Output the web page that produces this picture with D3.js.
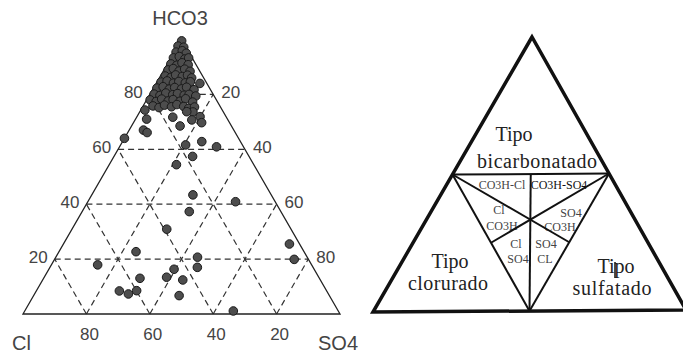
<!DOCTYPE html>
<html><head><meta charset="utf-8">
<script src="https://cdn.jsdelivr.net/npm/d3@7"></script>
<style>html,body{margin:0;padding:0;background:#fff;} svg{display:block;}</style>
</head><body>
<svg id="c" width="683" height="354"></svg>
<script>
// ---- Data: samples (percent of anions, meq) ----
const hco3 = [99.5,97.6,97.2,95.4,95.9,95.0,93.3,93.8,92.9,93.3,
  91.1,90.6,91.5,90.8,88.9,89.4,88.5,89.2,88.4,86.7,
  86.2,87.1,86.5,87.0,86.0,84.5,84.9,84.1,84.7,84.2,
  84.6,82.3,82.8,81.9,82.5,82.0,82.6,81.7,80.1,79.6,
  80.5,79.9,80.3,79.7,80.0,79.4,78.0,77.4,78.3,77.6,
  78.1,77.5,78.4,77.2,75.8,75.2,76.1,75.5,76.3,75.6,
  74.9,75.4,73.6,
  84.0,74.3,71.0,67.0,66.1,64.0,71.7,68.5,70.7,71.9,
  69.7,73.7,62.8,60.9,61.6,57.4,54.4,
  43.4,40.9,37.3,30.9,22.7,17.9,20.7,17.0,16.3,13.4,
  12.4,13.0,8.4,7.3,8.5,6.7,1.1,25.5,19.9];
const so4 = [0.3,0.1,2.1,0.6,2.3,4.0,0.8,2.4,4.6,5.6,
  1.1,3.2,4.4,6.7,1.3,2.7,5.0,6.4,8.5,1.5,
  3.6,4.6,7.0,8.4,10.2,1.3,3.0,5.4,6.8,9.1,
  10.5,1.1,2.8,5.2,6.6,9.0,10.3,13.1,1.3,3.4,
  4.8,7.3,8.6,11.0,12.4,14.8,1.1,3.3,4.6,7.0,
  8.3,10.8,12.1,14.9,3.1,5.3,6.6,9.1,10.4,12.9,
  14.8,16.4,16.8,
  13.8,1.3,3.5,4.5,6.1,0.0,11.4,15.3,17.9,19.9,
  21.5,14.8,25.0,30.6,20.5,24.8,21.2,
  31.9,46.6,33.8,29.9,24.3,14.6,44.7,46.5,39.5,38.6,
  44.2,30.4,26.2,29.6,31.6,45.9,65.8,71.3,75.6];
const cl = [0.2,2.3,0.7,4.0,1.8,1.0,5.9,3.8,2.5,1.1,
  7.8,6.2,4.1,2.5,9.8,7.9,6.5,4.4,3.1,11.8,
  10.2,8.3,6.5,4.6,3.8,14.2,12.1,10.5,8.5,6.7,
  4.9,16.6,14.4,12.9,10.9,9.0,7.1,5.2,18.6,17.0,
  14.7,12.8,11.1,9.3,7.6,5.8,20.9,19.3,17.1,15.4,
  13.6,11.7,9.5,7.9,21.1,19.5,17.3,15.4,13.3,11.5,
  10.3,8.2,9.6,
  2.2,24.4,25.5,28.5,27.8,36.0,16.9,16.2,11.4,8.2,
  8.8,11.5,12.2,8.5,17.9,17.8,24.4,
  24.7,12.5,28.9,39.2,53.0,67.5,34.6,36.5,44.2,48.0,
  43.4,56.6,65.4,63.1,59.9,47.4,33.1,3.2,4.5];

const gridValues = [20, 40, 60, 80];
const hco3TickLabels = ["20","40","60","80"];   // left side, at HCO3 = 20..80
const so4TickLabels  = ["80","60","40","20"];   // right side, at HCO3 = 20..80
const clTickLabels   = ["80","60","40","20"];   // bottom, at SO4 = 20..80
const cornerLabels = ["HCO3", "Cl", "SO4"];

// classification diagram (HCO3, Cl, SO4 in %)
const classLines = [
  [[50,50,0],[50,0,50]],
  [[50,50,0],[0,50,50]],
  [[50,0,50],[0,50,50]],
  [[50,50,0],[25,25,50]],
  [[50,0,50],[25,50,25]],
  [[50,25,25],[0,50,50]]
];
const bigLabels = [
  {t:"Tipo", x:514, y:141},
  {t:"bicarbonatado", x:537, y:168, len:120},
  {t:"Tipo", x:450, y:268},
  {t:"clorurado", x:448, y:290, len:80},
  {t:"Tipo", x:616, y:273},
  {t:"sulfatado", x:612, y:295, len:79}
];
const smallLabels = [
  {t:"CO3H-Cl", x:502, y:189},
  {t:"CO3H-SO4", x:559, y:189, dark:true},
  {t:"Cl", x:499, y:214},
  {t:"CO3H", x:502, y:230},
  {t:"SO4", x:571, y:217},
  {t:"CO3H", x:560, y:231},
  {t:"Cl", x:516, y:248},
  {t:"SO4", x:518, y:263},
  {t:"SO4", x:546, y:248},
  {t:"CL", x:545, y:263}
];

const svg = d3.select("#c");

// ---------- Left: ternary plot ----------
const xS = d3.scaleLinear().domain([0,100]).range([23, 340]);
const yS = d3.scaleLinear().domain([0,100]).range([314, 39.5]);
const tp = (h, s) => [xS(s + h/2), yS(h)];
const line = d3.line();

const g = svg.append("g");
const grid = g.append("g").attr("stroke","#333").attr("stroke-width",1.2)
  .attr("stroke-dasharray","6,4").attr("fill","none");
gridValues.forEach(v => {
  grid.append("path").attr("d", line([tp(v,0), tp(v,100-v)]));      // HCO3 = v
  grid.append("path").attr("d", line([tp(0,100-v), tp(100-v,0)]));  // Cl = v
  grid.append("path").attr("d", line([tp(0,v), tp(100-v,v)]));      // SO4 = v
});
g.append("path").attr("d", line([tp(0,0), tp(0,100), tp(100,0)]) + "Z")
  .attr("fill","none").attr("stroke","#222").attr("stroke-width",1.3);

const lab = g.append("g").attr("font-family","'Liberation Sans', Arial, sans-serif")
  .attr("font-size",17).attr("fill","#444");
gridValues.forEach((v,i) => {
  const pl = tp(v,0);
  lab.append("text").attr("x", pl[0]-7).attr("y", pl[1]-2).attr("dy","0.35em")
    .attr("text-anchor","end").text(hco3TickLabels[i]);
  const pr = tp(v,100-v);
  lab.append("text").attr("x", pr[0]+8).attr("y", pr[1]-2).attr("dy","0.35em")
    .attr("text-anchor","start").text(so4TickLabels[i]);
  const pb = tp(0, v);
  lab.append("text").attr("x", pb[0]+3).attr("y", 340)
    .attr("text-anchor","middle").text(clTickLabels[i]);
});
const corner = g.append("g").attr("font-family","'Liberation Sans', Arial, sans-serif")
  .attr("font-size",20).attr("fill","#444");
corner.append("text").attr("x",180).attr("y",25).attr("text-anchor","middle").text(cornerLabels[0]);
corner.append("text").attr("x",12).attr("y",350).text(cornerLabels[1]);
corner.append("text").attr("x",318).attr("y",350).text(cornerLabels[2]);

const pts = hco3.map((h,i) => ({h, s: so4[i], c: cl[i]}));
g.append("g").selectAll("circle").data(pts).join("circle")
  .attr("cx", d => tp(d.h, d.s)[0]).attr("cy", d => tp(d.h, d.s)[1])
  .attr("r", 4.3).attr("fill","#4d4d4d").attr("stroke","#1a1a1a").attr("stroke-width",1);

// ---------- Right: classification triangle ----------
const RA=[532,37], RB=[373,312], RC=[686,310];
const rp = (v) => { const [h,c,s] = v.map(x=>x/100);
  return [h*RA[0]+c*RB[0]+s*RC[0], h*RA[1]+c*RB[1]+s*RC[1]]; };
const r = svg.append("g");

r.append("g").attr("font-family","'Liberation Serif','Times New Roman',serif")
  .attr("font-size",20).attr("fill","#222").attr("text-anchor","middle")
  .selectAll("text").data(bigLabels).join("text")
  .attr("x",d=>d.x).attr("y",d=>d.y).text(d=>d.t)
  .each(function(d){ if(d.len) d3.select(this).attr("textLength",d.len).attr("lengthAdjust","spacing"); });

r.append("g").attr("font-family","'Liberation Serif','Times New Roman',serif")
  .attr("font-size",12).attr("text-anchor","middle")
  .selectAll("text").data(smallLabels).join("text")
  .attr("x",d=>d.x).attr("y",d=>d.y).attr("fill",d=>d.dark?"#111":"#444").text(d=>d.t);

r.append("g").attr("stroke","#111").attr("stroke-width",2).attr("fill","none")
  .selectAll("path").data(classLines).join("path")
  .attr("d", d => line([rp(d[0]), rp(d[1])]));

r.append("path").attr("d", line([RA,RB,RC]) + "Z")
  .attr("fill","none").attr("stroke","#111").attr("stroke-width",3.5).attr("stroke-linejoin","miter");

// text cursor artifact in the source image
r.append("line").attr("x1",615).attr("x2",615).attr("y1",262).attr("y2",278)
  .attr("stroke","#111").attr("stroke-width",1.5);
</script>
</body></html>
